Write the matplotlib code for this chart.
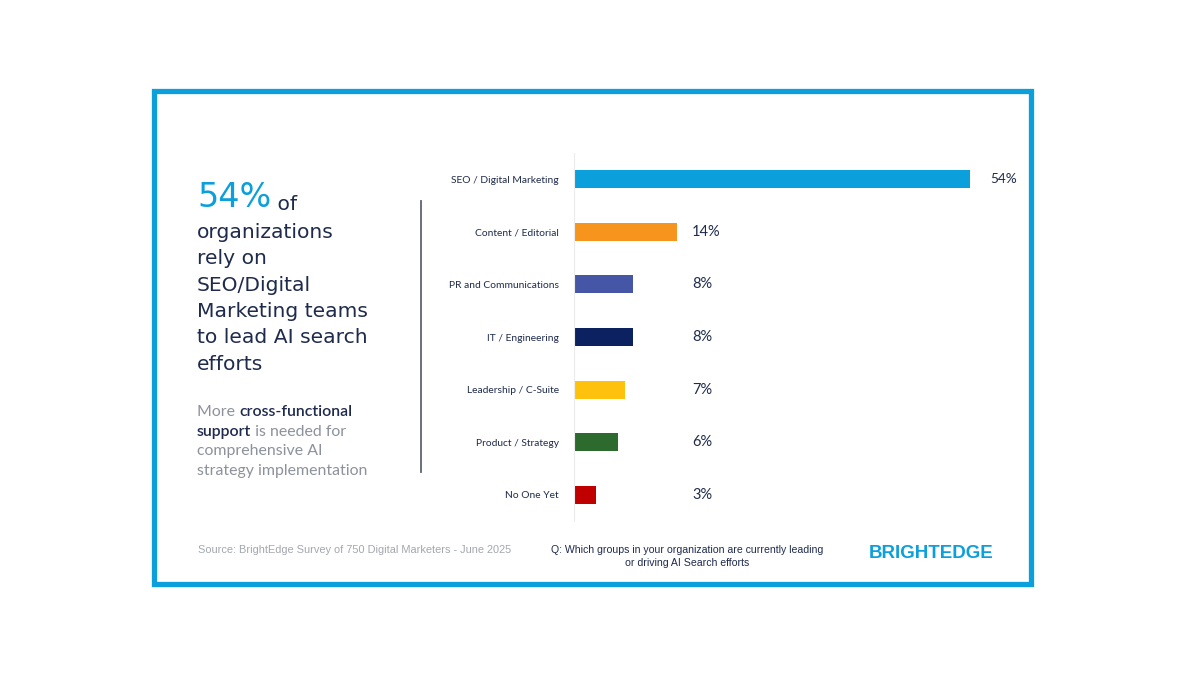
import matplotlib
matplotlib.use("Agg")
import matplotlib.pyplot as plt
from matplotlib.patches import Rectangle
from matplotlib.lines import Line2D

categories = ["SEO / Digital Marketing", "Content / Editorial", "PR and Communications",
              "IT / Engineering", "Leadership / C-Suite", "Product / Strategy", "No One Yet"]
values = [54, 14, 8, 8, 7, 6, 3]
value_labels = ["54%", "14%", "8%", "8%", "7%", "6%", "3%"]
bar_colors = ["#0b9fdc", "#f7941d", "#4656a6", "#0c2260", "#fec20e", "#2d6a2d", "#c00000"]

NAVY = "#1f2b4d"
BLUE = "#0b9fdc"
GREY = "#8c919b"

W, H = 1200, 675
fig = plt.figure(figsize=(12, 6.75), dpi=100)
fig.patch.set_facecolor("white")

def fx(px):
    return px / W

def fy(py):
    return 1 - py / H

# overlay axes for decorations
ov = fig.add_axes([0, 0, 1, 1])
ov.set_xlim(0, W)
ov.set_ylim(H, 0)
ov.axis("off")

# frame
ov.add_patch(Rectangle((153.5, 90.5), 877, 493, fill=False, edgecolor=BLUE, linewidth=3.8))
# separator line
ov.add_line(Line2D([421, 421], [201, 472], color="#5d6472", linewidth=1.3))

# bar chart axes
ax = fig.add_axes([fx(574), fy(521), fx(1030 - 574), (521 - 153) / H])
ax.set_facecolor("none")
y = list(range(len(categories)))
ax.barh(y, values, height=0.34, color=bar_colors)
ax.set_ylim(len(categories) - 0.5, -0.5)
ax.set_xlim(0, (1030 - 574) / (396 / 54))
ax.set_yticks(y)
ax.set_yticklabels(categories, fontsize=7.4, color=NAVY, family=["Lato", "DejaVu Sans"])
ax.tick_params(axis="y", length=0, pad=11)
ax.set_xticks([])
for s in ["top", "right", "bottom"]:
    ax.spines[s].set_visible(False)
ax.spines["left"].set_color("#ececec")
ax.spines["left"].set_linewidth(0.8)
col = values[1] + 2.1
for yi, v, lab in zip(y, values, value_labels):
    xpos = v + 2.7 if v > col else col
    fs = 9.8 if v == max(values) else 10.5
    ax.text(xpos, yi, lab, va="center", ha="left", fontsize=fs, color=NAVY,
            family=["Lato", "DejaVu Sans"])

# headline
fam = ["Lato", "DejaVu Sans"]
hfam = ["DejaVu Sans"]
t54 = ov.text(197, 207, "54%", fontsize=24, color=BLUE, family=hfam, va="baseline", ha="left")
ov.annotate(" of", xy=(1, 0), xycoords=t54, xytext=(0, 0), textcoords="offset points",
            fontsize=14.6, color=NAVY, family=hfam, va="bottom", ha="left")
lines = ["organizations", "rely on", "SEO/Digital", "Marketing teams", "to lead AI search", "efforts"]
for i, ln in enumerate(lines):
    ov.text(197, 238 + i * 26.3, ln, fontsize=14.6, color=NAVY, family=hfam,
            va="baseline", ha="left")

# sub paragraph with mixed styles
sub = [
    [("More ", GREY, "normal"), ("cross-functional", NAVY, "semibold")],
    [("support", NAVY, "semibold"), (" is needed for", GREY, "normal")],
    [("comprehensive AI", GREY, "normal")],
    [("strategy implementation", GREY, "normal")],
]
for i, parts in enumerate(sub):
    prev = None
    for txt, c, wt in parts:
        if prev is None:
            prev = ov.text(197, 416 + i * 19.6, txt, fontsize=11.4, color=c, weight=wt,
                           family=fam, va="baseline", ha="left")
        else:
            prev = ov.annotate(txt, xy=(1, 0), xycoords=prev, xytext=(0, 0),
                               textcoords="offset points", fontsize=11.4, color=c,
                               weight=wt, family=fam, va="bottom", ha="left")

# footer
ov.text(198, 553, "Source: BrightEdge Survey of 750 Digital Marketers - June 2025",
        fontsize=7.9, color="#a3a7ae", family=["Liberation Sans", "DejaVu Sans"],
        va="baseline", ha="left")
ov.text(687, 553, "Q: Which groups in your organization are currently leading",
        fontsize=7.6, color=NAVY, family=["Liberation Sans", "DejaVu Sans"],
        va="baseline", ha="center")
ov.text(687, 566, "or driving AI Search efforts",
        fontsize=7.6, color=NAVY, family=["Liberation Sans", "DejaVu Sans"],
        va="baseline", ha="center")
ov.text(993, 558, "BRIGHTEDGE", fontsize=13.5, color=BLUE, weight="bold",
        family=["Liberation Sans", "DejaVu Sans"],
        va="baseline", ha="right")

fig.savefig("out.png", dpi=100, facecolor="white")
